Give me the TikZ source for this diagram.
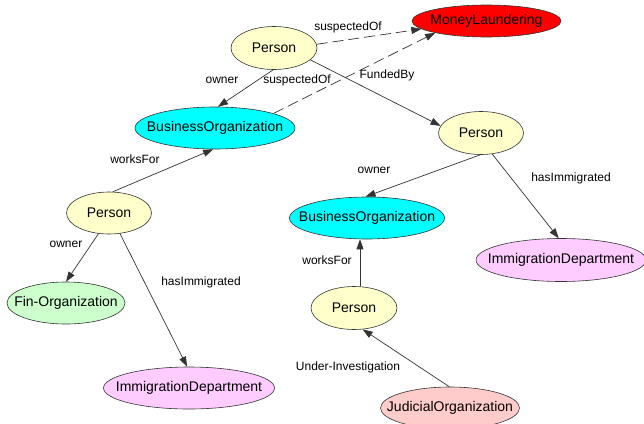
\documentclass[tikz,border=0pt]{standalone}
\usepackage{fontspec}
\setmainfont{Liberation Sans}
\usetikzlibrary{shapes.geometric,arrows.meta}
\definecolor{cperson}{HTML}{FFFFCC}
\definecolor{cbo}{HTML}{00FFFF}
\definecolor{cml}{HTML}{FF0000}
\definecolor{cfin}{HTML}{CCFFCC}
\definecolor{cimm}{HTML}{FFCCFF}
\definecolor{cjud}{HTML}{FFCCCC}
\definecolor{cline}{HTML}{333333}
\newcommand\zw[1]{\makebox[0pt]{#1}}
\tikzset{
  ent/.style={ellipse, draw=cline, line width=0.6pt, inner sep=0pt,
    font=\fontsize{14}{16}\selectfont},
  rel/.style={draw=cline, line width=0.7pt, -{Triangle[length=10pt,width=7pt]}},
  susp/.style={rel, dash pattern=on 11pt off 5pt},
  lbl/.style={font=\fontsize{12}{14}\selectfont, inner sep=0pt}
}
\begin{document}
\begin{tikzpicture}[x=1pt,y=-1pt]
\useasboundingbox (0,0) rectangle (644,423);
\clip (0,0) rectangle (644,423);
\fill[white] (0,0) rectangle (644,423);
% nodes
\node[ent, fill=cperson, minimum width=86pt, minimum height=43pt] (p1) at (274,48) {\zw{Person}};
\node[ent, fill=cml, minimum width=149pt, minimum height=32pt] (ml) at (486.5,21) {\zw{MoneyLaundering}};
\node[ent, fill=cbo, minimum width=160pt, minimum height=42pt] (bo1) at (215,128) {\zw{BusinessOrganization}};
\node[ent, fill=cperson, minimum width=85pt, minimum height=43pt] (p2) at (481,133) {\zw{Person}};
\node[ent, fill=cperson, minimum width=85pt, minimum height=42pt] (p3) at (109,213) {\zw{Person}};
\node[ent, fill=cbo, minimum width=155pt, minimum height=42pt] (bo2) at (367,218) {\zw{BusinessOrganization}};
\node[ent, fill=cimm, minimum width=170pt, minimum height=43pt] (im1) at (561,260) {\zw{ImmigrationDepartment}};
\node[ent, fill=cfin, minimum width=118pt, minimum height=42pt] (fin) at (66,303) {\zw{Fin-Organization}};
\node[ent, fill=cperson, minimum width=86pt, minimum height=43pt] (p4) at (354,308) {\zw{Person}};
\node[ent, fill=cimm, minimum width=171pt, minimum height=42pt] (im2) at (189,388) {\zw{ImmigrationDepartment}};
\node[ent, fill=cjud, minimum width=139pt, minimum height=42pt] (jo) at (450,408) {\zw{JudicialOrganization}};
% edges
\draw[susp] (p1.5) -- (ml.187);
\draw[susp] (bo1.14) -- (ml.193);
\draw[rel] (p1.-18) -- (p2.170);
\draw[rel] (p1.268) -- (bo1.82);
\draw[rel] (p3.80) -- (bo1.-95);
\draw[rel] (p3.243) -- (fin.north);
\draw[rel] (p3.-62) -- (im2.95);
\draw[rel] (p2.-92) -- (bo2.94);
\draw[rel] (p2.-62) -- (im1.96);
\draw[rel] ([xshift=6pt]p4.north) -- ([xshift=-7pt]bo2.south);
\draw[rel] (jo.92) -- (p4.-68);
% labels
\node[lbl] (l1) at (348,27) {suspectedOf};
\node[lbl] (l2) at (297,80) {suspectedOf};
\node[lbl] (l3) at (387,75) {FundedBy};
\node[lbl] (l4) at (222,80) {owner};
\node[lbl] (l5) at (135,159) {worksFor};
\node[lbl] (l6) at (66,244) {owner};
\node[lbl] (l7) at (201,282) {hasImmigrated};
\node[lbl] (l8) at (374,170) {owner};
\node[lbl] (l9) at (571,178) {hasImmigrated};
\node[lbl] (l10) at (327,260) {worksFor};
\node[lbl] (l11) at (348,367) {Under-Investigation};
\end{tikzpicture}
\end{document}
